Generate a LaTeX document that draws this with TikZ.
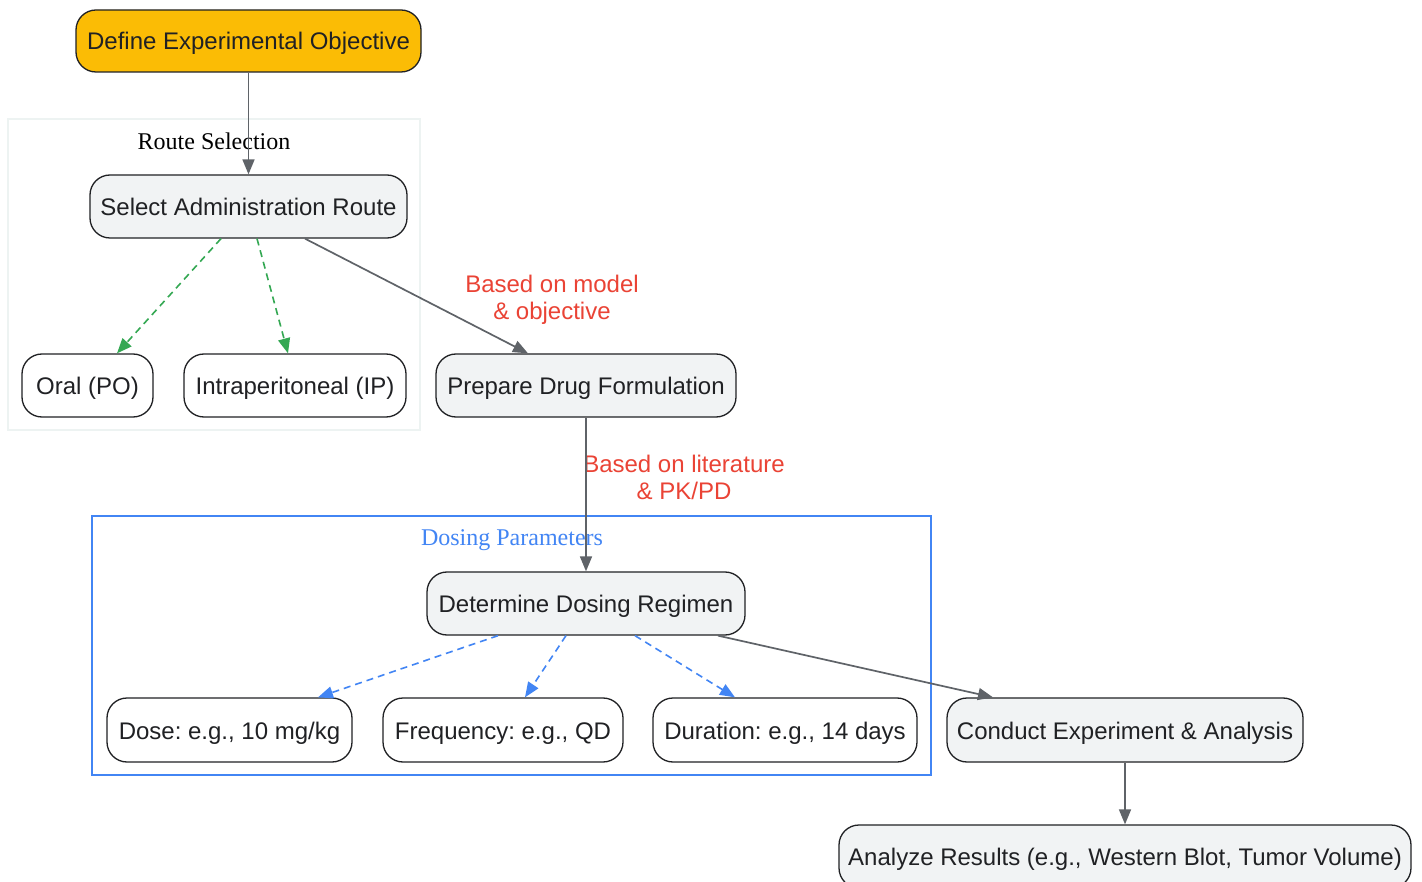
\documentclass[tikz,border=0pt]{standalone}
\usepackage{fontspec}
\setmainfont{Liberation Serif}
\setsansfont{Liberation Sans}
\usetikzlibrary{arrows.meta}
\frenchspacing
\definecolor{objfill}{HTML}{FBBC05}
\definecolor{grayfill}{HTML}{F1F3F4}
\definecolor{txt}{HTML}{202124}
\definecolor{edgegray}{HTML}{5F6368}
\definecolor{ggreen}{HTML}{34A853}
\definecolor{gblue}{HTML}{4285F4}
\definecolor{gred}{HTML}{EA4335}
\definecolor{faint}{HTML}{EDF3F2}
\tikzset{
  box/.style={draw=txt, line width=1.3pt, rounded corners=20pt, minimum height=63pt,
    inner sep=0pt, text=txt, text height=24pt, text depth=6pt,
    font=\sffamily\fontsize{24}{28}\selectfont},
  graybox/.style={box, fill=grayfill},
  whitebox/.style={box, fill=white},
  objbox/.style={box, fill=objfill},
  flow/.style={draw=edgegray, line width=1.7pt, -{Triangle[length=15pt,width=12pt]}},
  greenflow/.style={draw=ggreen, line width=1.6pt, dash pattern=on 7pt off 5pt, -{Triangle[length=15pt,width=12pt]}, ggreen},
  blueflow/.style={draw=gblue, line width=1.6pt, dash pattern=on 7pt off 5pt, -{Triangle[length=15pt,width=12pt]}, gblue},
  elabel/.style={text=gred, align=center, font=\sffamily\fontsize{24}{27}\selectfont, inner sep=0pt},
  ctitle/.style={font=\rmfamily\fontsize{24}{28}\selectfont, inner sep=0pt},
}
\begin{document}
\begin{tikzpicture}[x=1pt,y=-1pt]
\useasboundingbox[fill=white] (0,0) rectangle (1422,882);
% clusters
\draw[draw=faint, fill=white, line width=1.2pt] (8,119) rectangle (420,430);
\node[ctitle, text=black] (rtitle) at (214,141) {Route Selection};
\draw[draw=gblue, fill=white, line width=1.5pt] (92,516) rectangle (931,775);
\node[ctitle, text=gblue] (dtitle) at (512,540.5) {Dosing Parameters};
% nodes
\node[objbox, minimum width=345pt, minimum height=62pt] (obj) at (248.5,41) {Define Experimental Objective};
\node[graybox, minimum width=317pt] (sel) at (248.5,206.5) {Select Administration Route};
\node[whitebox, minimum width=131pt] (oral) at (87.5,385.5) {Oral (PO)};
\node[whitebox, minimum width=222pt] (ip) at (295,385.5) {Intraperitoneal (IP)};
\node[graybox, minimum width=300pt] (prep) at (586,385.5) {Prepare Drug Formulation};
\node[graybox, minimum width=318pt] (det) at (586,603.5) {Determine Dosing Regimen};
\node[whitebox, minimum width=245pt, minimum height=64pt] (dose) at (229.5,730) {Dose: e.g., 10 mg/kg};
\node[whitebox, minimum width=240pt, minimum height=64pt] (freq) at (503,730) {Frequency: e.g., QD};
\node[whitebox, minimum width=264pt, minimum height=64pt] (dur) at (785,730) {Duration: e.g., 14 days};
\node[graybox, minimum width=356pt, minimum height=64pt] (con) at (1125,730) {Conduct Experiment \& Analysis};
\node[graybox, minimum width=572pt] (ana) at (1125,856.5) {Analyze Results (e.g., Western Blot, Tumor Volume)};
% edge labels
\node[elabel] (l1) at (552,299.5) {Based on model\\\& objective};
\node[elabel] (l2) at (684,477) {Based on literature\\\& PK/PD};
% edges
\draw[flow] (obj) -- (sel);
\draw[greenflow] ([xshift=-27.5pt]sel.south) -- ([xshift=29.5pt]oral.north);
\draw[greenflow] ([xshift=8.5pt]sel.south) -- ([xshift=-7pt]ip.north);
\draw[flow] ([xshift=56.5pt]sel.south) -- ([xshift=-58pt]prep.north);
\draw[flow] (prep) -- (det);
\draw[blueflow] ([xshift=-88pt]det.south) -- ([xshift=88.5pt]dose.north);
\draw[blueflow] ([xshift=-20pt]det.south) -- ([xshift=22pt]freq.north);
\draw[blueflow] ([xshift=49pt]det.south) -- ([xshift=-50pt]dur.north);
\draw[flow] ([xshift=132pt]det.south) -- ([xshift=-132pt]con.north);
\draw[flow] (con) -- (ana);
\end{tikzpicture}
\end{document}
